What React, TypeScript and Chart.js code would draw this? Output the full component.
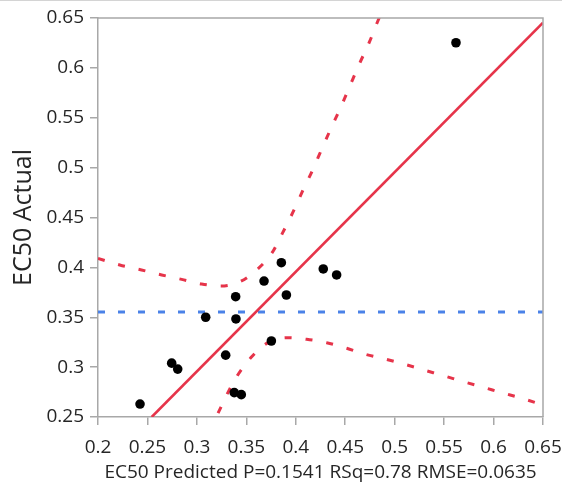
import React, { useEffect, useRef } from "react";
import { Chart, registerables } from "chart.js";

Chart.register(...registerables);

// Observed points
const predicted = [0.2425, 0.2745, 0.2806, 0.3089, 0.3291, 0.3378, 0.3392, 0.3395, 0.3449, 0.3679, 0.3753, 0.3854, 0.3905, 0.4278, 0.4413, 0.562];
const actual = [0.263, 0.304, 0.298, 0.350, 0.312, 0.2744, 0.3706, 0.3483, 0.2724, 0.3863, 0.3262, 0.4047, 0.3723, 0.3984, 0.3924, 0.6252];

// Fit line
const fitX = [0.2543, 0.65];
const fitY = [0.25, 0.6453];

// Mean line
const meanX = [0.2, 0.65];
const meanY = [0.3553, 0.3553];

// Upper confidence curve
const upperX = [0.2, 0.222, 0.244, 0.2644, 0.2846, 0.3048, 0.3244, 0.3436, 0.3604, 0.3756, 0.3868, 0.3969, 0.4066, 0.4167, 0.4262, 0.4356, 0.4454, 0.4548, 0.4643, 0.4745, 0.483, 0.492];
const upperY = [0.409, 0.4024, 0.3974, 0.3924, 0.388, 0.3833, 0.3813, 0.3857, 0.3974, 0.414, 0.4348, 0.4548, 0.4759, 0.4969, 0.5184, 0.5394, 0.5604, 0.5821, 0.6039, 0.626, 0.647, 0.668];

// Lower confidence curve
const lowerX = [0.312, 0.321, 0.3301, 0.3402, 0.3554, 0.3706, 0.3908, 0.411, 0.4312, 0.4515, 0.47, 0.4902, 0.5105, 0.5297, 0.5492, 0.5695, 0.5897, 0.6082, 0.6284, 0.65];
const lowerY = [0.235, 0.253, 0.272, 0.2904, 0.3104, 0.3238, 0.3295, 0.3279, 0.3245, 0.3189, 0.313, 0.3081, 0.3028, 0.2971, 0.2915, 0.2854, 0.2798, 0.2744, 0.2688, 0.262];

// Ticks
const xTicks = [0.2, 0.25, 0.3, 0.35, 0.4, 0.45, 0.5, 0.55, 0.6, 0.65];
const yTicks = [0.25, 0.3, 0.35, 0.4, 0.45, 0.5, 0.55, 0.6, 0.65];

const xTitle = "EC50 Predicted P=0.1541 RSq=0.78 RMSE=0.0635";
const yTitle = "EC50 Actual";

const zip = (xs: number[], ys: number[]) => xs.map((x, i) => ({ x, y: ys[i] }));

const AXIS = "#a8a8a8";
const TEXT = "#262626";
const RED = "#e6344a";
const BLUE = "#4a82e8";
const FONT = "'Open Sans', 'Noto Sans', sans-serif";

const frame = {
  id: "frame",
  afterDraw(chart: any) {
    const { ctx, chartArea } = chart;
    ctx.save();
    ctx.strokeStyle = AXIS;
    ctx.lineWidth = 1.5;
    ctx.beginPath();
    ctx.moveTo(chartArea.left, chartArea.top);
    ctx.lineTo(chartArea.right, chartArea.top);
    ctx.lineTo(chartArea.right, chartArea.bottom);
    ctx.stroke();
    ctx.strokeStyle = "#d4d4d4";
    ctx.lineWidth = 1;
    ctx.beginPath();
    ctx.moveTo(0, 0.5);
    ctx.lineTo(chart.width, 0.5);
    ctx.stroke();
    ctx.restore();
  },
};

export default function App() {
  const ref = useRef<HTMLCanvasElement>(null);

  useEffect(() => {
    if (!ref.current) return;
    const fmt = (v: any) => String(+Number(v).toFixed(2));
    const chart = new Chart(ref.current, {
      type: "scatter",
      data: {
        datasets: [
          {
            type: "scatter",
            data: zip(predicted, actual),
            pointRadius: 4.8,
            pointBackgroundColor: "#000",
            pointBorderWidth: 0,
          } as any,
          {
            type: "line",
            data: zip(fitX, fitY),
            borderColor: RED,
            borderWidth: 2.6,
            pointRadius: 0,
          } as any,
          {
            type: "line",
            data: zip(upperX, upperY),
            borderColor: RED,
            borderWidth: 3,
            borderDash: [7, 14],
            pointRadius: 0,
            cubicInterpolationMode: "monotone",
          } as any,
          {
            type: "line",
            data: zip(lowerX, lowerY),
            borderColor: RED,
            borderWidth: 3,
            borderDash: [7, 14],
            pointRadius: 0,
            cubicInterpolationMode: "monotone",
          } as any,
          {
            type: "line",
            data: zip(meanX, meanY),
            borderColor: BLUE,
            borderWidth: 3,
            borderDash: [7, 13],
            pointRadius: 0,
          } as any,
        ],
      },
      options: {
        animation: false,
        responsive: false,
        layout: { padding: { left: 0, right: 19, top: 18, bottom: 0 } },
        plugins: { legend: { display: false }, tooltip: { enabled: false } },
        scales: {
          x: {
            type: "linear",
            min: 0.2,
            max: 0.65,
            afterFit: (s: any) => {
              s.height = 77;
              s.paddingLeft = 0;
              s.paddingRight = 0;
            },
            afterBuildTicks: (s: any) => {
              s.ticks = xTicks.map((v) => ({ value: v }));
            },
            grid: { drawOnChartArea: false, drawTicks: true, tickLength: 8, color: AXIS, lineWidth: 1.5 },
            border: { color: AXIS, width: 1.5 },
            ticks: { padding: 11, autoSkip: false, maxRotation: 0, color: TEXT, font: { family: FONT, size: 19 }, callback: fmt },
            title: { display: true, text: xTitle, color: TEXT, font: { family: FONT, size: 19 }, padding: { top: 0, bottom: 10 } },
          },
          y: {
            type: "linear",
            min: 0.25,
            max: 0.65,
            afterFit: (s: any) => {
              s.width = 98;
              s.paddingTop = 0;
              s.paddingBottom = 0;
            },
            afterBuildTicks: (s: any) => {
              s.ticks = yTicks.map((v) => ({ value: v }));
            },
            grid: { drawOnChartArea: false, drawTicks: true, tickLength: 8, color: AXIS, lineWidth: 1.5 },
            border: { color: AXIS, width: 1.5 },
            ticks: { padding: 6, autoSkip: false, color: TEXT, font: { family: FONT, size: 19 }, callback: fmt },
            title: { display: true, text: yTitle, color: TEXT, font: { family: FONT, size: 25 }, padding: { top: 9, bottom: 0 } },
          },
        },
      },
      plugins: [frame],
    });
    return () => chart.destroy();
  }, []);

  return (
    <div style={{ position: "fixed", left: 0, top: 0, width: 562, height: 494, background: "#fff" }}>
      <canvas ref={ref} width={562} height={494} style={{ display: "block" }} />
    </div>
  );
}
